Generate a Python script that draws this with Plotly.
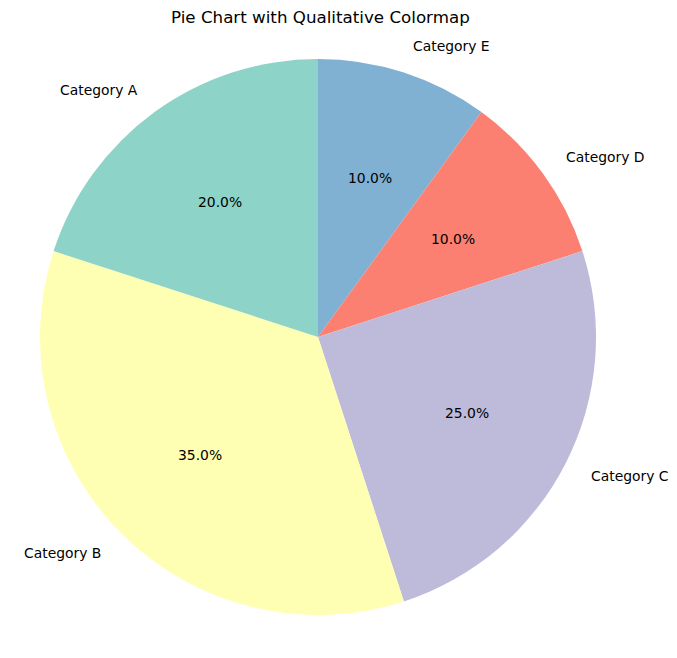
import math
import plotly.graph_objects as go

labels = ["Category A", "Category B", "Category C", "Category D", "Category E"]
sizes = [20, 35, 25, 10, 10]
colors = ["#8dd3c7", "#ffffb3", "#bebada", "#fb8072", "#80b1d3"]
title = "Pie Chart with Qualitative Colormap"

W, H = 677, 658
CX, CY, R = 318, 337, 278  # pie centre and radius in pixels
START = 90.0  # degrees, counterclockwise

def to_paper(px, py):
    return px / W, 1 - py / H

# Matplotlib draws counterclockwise from 90deg; equivalently, clockwise from 12 o'clock in reversed order.
fig = go.Figure(go.Pie(
    labels=labels[::-1], values=sizes[::-1], sort=False, direction="clockwise",
    rotation=0, textinfo="none", marker=dict(colors=colors[::-1], line=dict(width=0)),
    domain=dict(x=[(CX - R) / W, (CX + R) / W], y=[1 - (CY + R) / H, 1 - (CY - R) / H]),
    showlegend=False,
))

total = sum(sizes)
ann = []
theta = START
font = dict(family="DejaVu Sans", size=13.9, color="black")
for lab, v in zip(labels, sizes):
    span = 360.0 * v / total
    mid = math.radians(theta + span / 2)
    theta += span
    c, s = math.cos(mid), math.sin(mid)
    lx, ly = to_paper(CX + 1.1 * R * c + (-1.5 if c > 0 else 1.5), CY - 1.1 * R * s)
    ann.append(dict(x=lx, y=ly, xref="paper", yref="paper", text=lab, showarrow=False,
                    xanchor="left" if c > 0 else "right", yanchor="middle", font=font))
    px_, py_ = to_paper(CX + 0.6 * R * c, CY - 0.6 * R * s)
    ann.append(dict(x=px_, y=py_, xref="paper", yref="paper", text=f"{100 * v / total:.1f}%",
                    showarrow=False, xanchor="center", yanchor="middle", font=font))

tx, ty = to_paper(320, 17)
ann.append(dict(x=tx, y=ty, xref="paper", yref="paper", text=title, showarrow=False,
                xanchor="center", yanchor="middle",
                font=dict(family="DejaVu Sans", size=16.7, color="black")))

fig.update_layout(width=W, height=H, margin=dict(l=0, r=0, t=0, b=0),
                  paper_bgcolor="white", plot_bgcolor="white", annotations=ann)
fig.write_html("out.html", config={"displayModeBar": False},
               post_script="document.body.style.margin='0';")
